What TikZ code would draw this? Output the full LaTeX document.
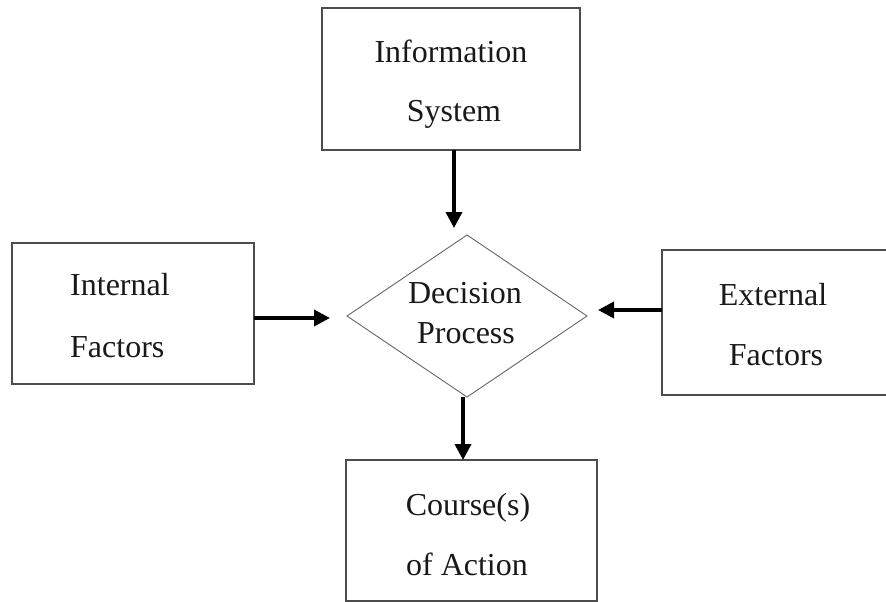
\documentclass[tikz,border=0pt]{standalone}
\usepackage{fontspec}
\setmainfont{Liberation Serif}
\usetikzlibrary{shapes.geometric,arrows.meta,calc}
\begin{document}
\begin{tikzpicture}[x=1pt,y=-1pt,
  box/.style={draw=black!70,line width=1.4pt,inner sep=0pt,outer sep=0pt},
  dia/.style={diamond,draw=black!60,line width=0.9pt,inner sep=0pt,outer sep=0pt},
  lbl/.style={font=\fontsize{32}{38}\selectfont,inner sep=0pt,anchor=base,text=black!90},
  arr/.style={line width=3.6pt,-{Triangle[length=16pt,width=16pt]}}]
\useasboundingbox (0,0) rectangle (886,602);
\clip (0,0) rectangle (886,602);
\fill[white] (0,0) rectangle (886,602);
% boxes
\node[box,minimum width=258pt,minimum height=142pt] (info) at (451,79) {};
\node[box,minimum width=242pt,minimum height=141pt] (int) at (133,313.5) {};
\node[box,minimum width=248pt,minimum height=145pt] (ext) at (786,322.5) {};
\node[box,minimum width=251pt,minimum height=141pt] (crs) at (471.5,530.5) {};
\node[dia,minimum width=240pt,minimum height=162pt] (dec) at (467,316) {};
% labels
\node[lbl] (t1) at (451,63) {Information};
\node[lbl] (t2) at (454,121) {System};
\node[lbl,anchor=base west] (t3) at (70,295) {Internal};
\node[lbl,anchor=base west] (t4) at (70,357) {Factors};
\node[lbl] (t5) at (465,303) {Decision};
\node[lbl] (t6) at (466,343) {Process};
\node[lbl] (t7) at (773,305) {External};
\node[lbl] (t8) at (776,365) {Factors};
\node[lbl] (t9) at (468,515) {Course(s)};
\node[lbl] (t10) at (467,575) {of Action};
% arrows
\draw[arr,shorten >=7pt] ($(info.south)+(3,0)$) -- ($(info.south |- dec.north)+(3,0)$);
\draw[arr,shorten >=17pt] ($(int.east |- dec.west)+(0,2)$) -- ($(dec.west)+(0,2)$);
\draw[arr,shorten >=11pt] ($(ext.west |- dec.east)+(0,-6)$) -- ($(dec.east)+(0,-6)$);
\draw[arr] ($(dec.south)+(-4,0)$) -- ($(dec.south |- crs.north)+(-4,0)$);
\end{tikzpicture}
\end{document}
